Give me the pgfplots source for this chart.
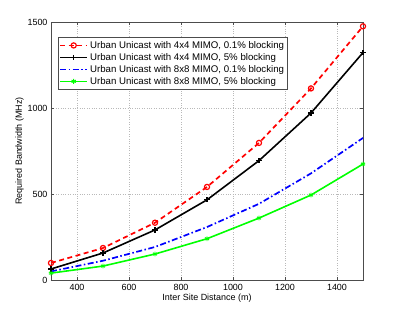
\documentclass[border=0pt]{standalone}
\usepackage{fontspec}
\setmainfont{Liberation Sans}
\usepackage{pgfplots}
\pgfplotsset{compat=1.18}
\begin{document}
\begin{tikzpicture}
\path[use as bounding box] (-51bp,-35bp) rectangle (348bp,280bp);
\begin{axis}[
  at={(0,0)}, anchor=south west,
  scale only axis, width=312bp, height=258bp,
  xmin=300, xmax=1500, ymin=0, ymax=1500,
  xtick={400,600,...,1400}, ytick={0,500,1000,1500},
  tick align=inside, major tick length=3bp,
  grid=major, grid style={dotted, gray!55, line width=0.5pt},
  axis line style={gray!60!black, line width=0.6pt},
  tick style={gray!60!black},
  every tick label/.append style={font=\fontsize{9}{10}\selectfont},
  xticklabel style={yshift=-1bp},
  /pgf/number format/assume math mode=true,
  /pgf/number format/1000 sep={},
  xlabel={Inter Site Distance (m)}, ylabel={Required Bandwidth (MHz)},
  label style={font=\fontsize{9}{10}\selectfont},
  xlabel style={yshift=4bp}, ylabel style={yshift=-3bp},
  legend style={at={(0.021,0.94)}, anchor=north west, font=\fontsize{9.7}{11}\selectfont,
    draw=gray!60!black, inner sep=1.5pt, row sep=-0.5pt},
  legend cell align=left,
  legend image code/.code={\draw[mark repeat=2,mark phase=2] plot coordinates {(0cm,0cm) (0.48cm,0cm) (0.96cm,0cm)};},
]
\addplot[red, dash pattern=on 5bp off 3.5bp, line width=1.7pt, mark=o, mark size=2.6pt, mark options={solid, line width=1.2pt}]
 coordinates {(300,99) (500,186) (700,333) (900,541) (1100,797) (1300,1114) (1500,1475)};
\addlegendentry{Urban Unicast with 4x4 MIMO, 0.1\% blocking}
\addplot[black, solid, line width=1.6pt, mark=+, mark size=2.6pt, mark options={line width=1.2pt}]
 coordinates {(300,64) (500,157) (700,291) (900,466) (1100,694) (1300,971) (1500,1322)};
\addlegendentry{Urban Unicast with 4x4 MIMO, 5\% blocking}
\addplot[blue, dash pattern=on 6bp off 2.5bp on 1.5bp off 2.5bp, line width=1.7pt]
 coordinates {(300,50) (500,112) (700,192) (900,308) (1100,443) (1300,620) (1500,826)};
\addlegendentry{Urban Unicast with 8x8 MIMO, 0.1\% blocking}
\addplot[green, solid, line width=1.6pt, mark=asterisk, mark size=2.4pt, mark options={line width=1pt}]
 coordinates {(300,40) (500,81) (700,151) (900,240) (1100,360) (1300,494) (1500,674)};
\addlegendentry{Urban Unicast with 8x8 MIMO, 5\% blocking}
\end{axis}
\end{tikzpicture}
\end{document}
